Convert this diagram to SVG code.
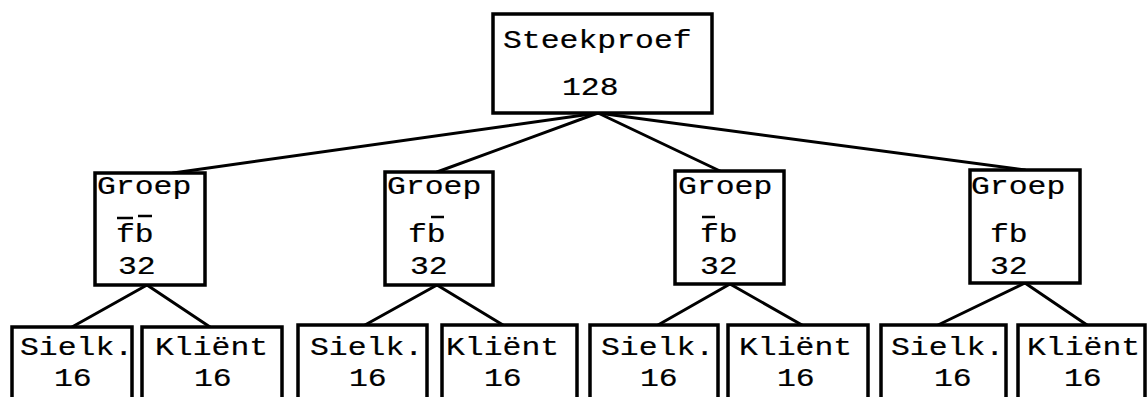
<svg xmlns="http://www.w3.org/2000/svg" width="1147" height="397" viewBox="0 0 1147 397">
<style>
  .box { fill: #ffffff; stroke: #000000; stroke-width: 3.5; }
  .con { stroke: #000000; stroke-width: 3; fill: none; stroke-linecap: round; }
  .bar { stroke: #000000; stroke-width: 2.5; }
  text { font-family: "Liberation Mono", "Courier New", monospace; font-size: 26px; fill: #000000; stroke: #000000; stroke-width: 0.2; }
</style>
<rect width="1147" height="397" fill="#ffffff"/>
<g id="connectors">
  <line class="con" x1="598" y1="113" x2="173" y2="173"/>
  <line class="con" x1="598" y1="113" x2="437" y2="172"/>
  <line class="con" x1="598" y1="113" x2="720" y2="171"/>
  <line class="con" x1="598" y1="113" x2="1025" y2="170"/>
  <line class="con" x1="147" y1="285" x2="72" y2="327"/>
  <line class="con" x1="147" y1="285" x2="210" y2="327"/>
  <line class="con" x1="437" y1="285" x2="365" y2="325"/>
  <line class="con" x1="437" y1="285" x2="503" y2="325"/>
  <line class="con" x1="730" y1="284" x2="658" y2="325"/>
  <line class="con" x1="730" y1="284" x2="802" y2="325"/>
  <line class="con" x1="1025" y1="283" x2="938" y2="325"/>
  <line class="con" x1="1025" y1="283" x2="1087" y2="325"/>
</g>
<g id="steekproef">
  <rect class="box" x="493" y="14" width="219" height="99"/>
  <text transform="translate(503 48) scale(1.21 1)">Steekproef</text>
  <text transform="translate(562 95) scale(1.21 1)">128</text>
</g>
<g id="groep-fb-bar-bar">
  <rect class="box" x="95" y="173" width="110" height="112"/>
  <text transform="translate(97 194) scale(1.21 1)">Groep</text>
  <text transform="translate(116 242) scale(1.21 1)">fb</text>
  <line class="bar" x1="117" y1="218" x2="133" y2="218"/>
  <line class="bar" x1="138" y1="216" x2="152" y2="216"/>
  <text transform="translate(118 274) scale(1.21 1)">32</text>
</g>
<g id="groep-f-bbar">
  <rect class="box" x="385" y="172" width="108" height="113"/>
  <text transform="translate(387 194) scale(1.21 1)">Groep</text>
  <text transform="translate(408 242) scale(1.21 1)">fb</text>
  <line class="bar" x1="431" y1="217" x2="444" y2="217"/>
  <text transform="translate(410 274) scale(1.21 1)">32</text>
</g>
<g id="groep-fbar-b">
  <rect class="box" x="675" y="171" width="109" height="113"/>
  <text transform="translate(678 194) scale(1.21 1)">Groep</text>
  <text transform="translate(700 242) scale(1.21 1)">fb</text>
  <line class="bar" x1="702" y1="217" x2="715" y2="217"/>
  <text transform="translate(700 274) scale(1.21 1)">32</text>
</g>
<g id="groep-fb">
  <rect class="box" x="970" y="170" width="110" height="113"/>
  <text transform="translate(971 194) scale(1.21 1)">Groep</text>
  <text transform="translate(990 242) scale(1.21 1)">fb</text>
  <text transform="translate(990 274) scale(1.21 1)">32</text>
</g>
<g id="sielk-1">
  <rect class="box" x="12" y="327" width="120" height="80"/>
  <text transform="translate(20 355) scale(1.21 1)">Sielk.</text>
  <text transform="translate(54 386) scale(1.21 1)">16</text>
</g>
<g id="klient-1">
  <rect class="box" x="142" y="327" width="140" height="80"/>
  <text transform="translate(155 355) scale(1.21 1)">Kliënt</text>
  <text transform="translate(194 386) scale(1.21 1)">16</text>
</g>
<g id="sielk-2">
  <rect class="box" x="298" y="325" width="129" height="80"/>
  <text transform="translate(310 355) scale(1.21 1)">Sielk.</text>
  <text transform="translate(349 386) scale(1.21 1)">16</text>
</g>
<g id="klient-2">
  <rect class="box" x="442" y="325" width="135" height="80"/>
  <text transform="translate(446 355) scale(1.21 1)">Kliënt</text>
  <text transform="translate(484 386) scale(1.21 1)">16</text>
</g>
<g id="sielk-3">
  <rect class="box" x="590" y="325" width="128" height="80"/>
  <text transform="translate(601 355) scale(1.21 1)">Sielk.</text>
  <text transform="translate(640 386) scale(1.21 1)">16</text>
</g>
<g id="klient-3">
  <rect class="box" x="728" y="325" width="140" height="80"/>
  <text transform="translate(739 355) scale(1.21 1)">Kliënt</text>
  <text transform="translate(777 386) scale(1.21 1)">16</text>
</g>
<g id="sielk-4">
  <rect class="box" x="881" y="325" width="125" height="80"/>
  <text transform="translate(891 355) scale(1.21 1)">Sielk.</text>
  <text transform="translate(934 386) scale(1.21 1)">16</text>
</g>
<g id="klient-4">
  <rect class="box" x="1018" y="325" width="127" height="80"/>
  <text transform="translate(1027 355) scale(1.21 1)">Kliënt</text>
  <text transform="translate(1064 386) scale(1.21 1)">16</text>
</g>
</svg>
